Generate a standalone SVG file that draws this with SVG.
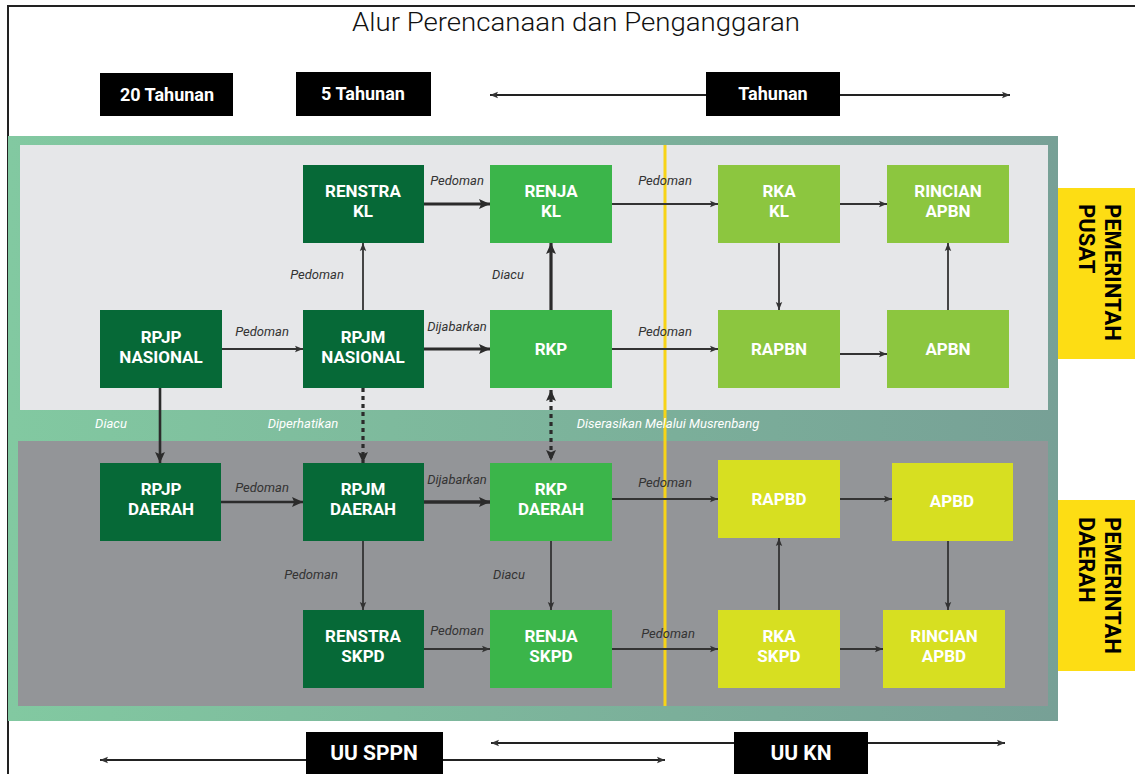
<svg xmlns="http://www.w3.org/2000/svg" width="1135" height="774" viewBox="0 0 1135 774">
<defs>
<linearGradient id="band" x1="0" y1="0" x2="1" y2="0">
<stop offset="0" stop-color="#82c9a1"/>
<stop offset="1" stop-color="#77a096"/>
</linearGradient>
<marker id="hs" viewBox="0 0 10 10" refX="10" refY="5" markerWidth="8" markerHeight="8" markerUnits="userSpaceOnUse" orient="auto-start-reverse"><path d="M0,1 L10,5 L0,9 L2,5 z" fill="#333"/></marker>
<marker id="hl" viewBox="0 0 10 10" refX="10" refY="5" markerWidth="11" markerHeight="11" markerUnits="userSpaceOnUse" orient="auto-start-reverse"><path d="M0,0.5 L10,5 L0,9.5 L2,5 z" fill="#2b2b2b"/></marker>
</defs>
<style>
.n1{fill:#066937}
.n2{fill:#3bb54a}
.n3{fill:#8cc63f}
.n4{fill:#d7df21}
.nt{font-family:Roboto,"Liberation Sans",sans-serif;font-weight:bold;font-size:17px;fill:#fff;text-anchor:middle}
.lb{font-family:Roboto,"Liberation Sans",sans-serif;font-style:italic;font-size:13px;fill:#333;text-anchor:middle}
.lw{font-family:Roboto,"Liberation Sans",sans-serif;font-style:italic;font-size:13px;fill:#fff;text-anchor:middle}
.blk{fill:#000}
.bt{font-family:Roboto,"Liberation Sans",sans-serif;font-weight:bold;font-size:18px;fill:#fff;text-anchor:middle}
.ut{font-family:Roboto,"Liberation Sans",sans-serif;font-weight:bold;font-size:21px;fill:#fff;text-anchor:middle}
.pt{font-family:Roboto,"Liberation Sans",sans-serif;font-weight:bold;font-size:22px;fill:#000}
.thin{stroke:#333;stroke-width:1.8;fill:none;marker-end:url(#hs)}
.thick{stroke:#2b2b2b;stroke-width:3.2;fill:none;marker-end:url(#hl)}
.dot{stroke:#2b2b2b;stroke-width:3.2;stroke-dasharray:4 4;fill:none;marker-end:url(#hl)}
.time{stroke:#222;stroke-width:2;fill:none;marker-end:url(#hs)}
</style>
<rect x="0" y="0" width="1135" height="774" fill="#fff"/>
<rect x="8" y="6" width="1140" height="800" fill="none" stroke="#222" stroke-width="2"/>
<text x="576" y="31" font-family="Roboto,'Liberation Sans',sans-serif" font-weight="300" font-size="26" fill="#111" text-anchor="middle" textLength="448" lengthAdjust="spacingAndGlyphs">Alur Perencanaan dan Penganggaran</text>

<!-- background panels -->
<rect x="8" y="136" width="1050" height="585" fill="url(#band)"/>
<rect x="20" y="145" width="1028" height="265" fill="#e6e7e9"/>
<rect x="18" y="441" width="1030" height="265" fill="#939598"/>
<line x1="665" y1="145" x2="665" y2="706" stroke="#f7d417" stroke-width="3"/>

<!-- time arrows -->
<g id="timeline">
<line class="time" x1="710" y1="95" x2="490" y2="95"/>
<line class="time" x1="835" y1="95" x2="1010" y2="95"/>
<line class="time" x1="310" y1="760" x2="100" y2="760"/>
<line class="time" x1="440" y1="760" x2="665" y2="760"/>
<line class="time" x1="738" y1="743" x2="491" y2="743"/>
<line class="time" x1="865" y1="743" x2="1005" y2="743"/>
</g>

<g id="box-20"><rect class="blk" x="100" y="73" width="133" height="43"/><text class="bt" x="167" y="101">20 Tahunan</text></g>
<g id="box-5"><rect class="blk" x="296" y="72" width="135" height="44"/><text class="bt" x="363" y="100">5 Tahunan</text></g>
<g id="box-tahunan"><rect class="blk" x="706" y="72" width="134" height="44"/><text class="bt" x="773" y="100">Tahunan</text></g>
<g id="box-sppn"><rect class="blk" x="306" y="732" width="137" height="50"/><text class="ut" x="374" y="760">UU SPPN</text></g>
<g id="box-kn"><rect class="blk" x="734" y="732" width="134" height="50"/><text class="ut" x="801" y="760">UU KN</text></g>

<g id="pusat"><rect x="1058" y="188" width="80" height="171" fill="#fddd14"/>
<text class="pt" transform="translate(1105,204) rotate(90)">PEMERINTAH<tspan x="0" dy="26">PUSAT</tspan></text></g>
<g id="daerah"><rect x="1058" y="500" width="80" height="171" fill="#fddd14"/>
<text class="pt" transform="translate(1105,517) rotate(90)">PEMERINTAH<tspan x="0" dy="26">DAERAH</tspan></text></g>

<!-- connectors -->
<g id="connectors">
<line class="thick" x1="424" y1="204" x2="490" y2="204"/>
<line class="thin" x1="612" y1="204" x2="718" y2="204"/>
<line class="thin" x1="840" y1="204" x2="887" y2="204"/>
<line class="thin" x1="779" y1="243" x2="779" y2="310"/>
<line class="thin" x1="840" y1="354" x2="887" y2="354"/>
<line class="thin" x1="948" y1="310" x2="948" y2="243"/>
<line class="thin" x1="222" y1="349" x2="303" y2="349"/>
<line class="thin" x1="363" y1="310" x2="363" y2="243"/>
<line class="thick" x1="424" y1="349" x2="490" y2="349"/>
<line class="thick" x1="551" y1="310" x2="551" y2="243"/>
<line class="thin" x1="612" y1="349" x2="718" y2="349"/>
<line class="thick" x1="160" y1="388" x2="160" y2="463" style="stroke-width:2.6"/>
<line class="dot" x1="363" y1="388" x2="363" y2="463"/>
<line class="dot" x1="551" y1="390" x2="551" y2="461" style="marker-start:url(#hl)"/>
<line class="thick" x1="221" y1="502" x2="303" y2="502" style="stroke-width:2.6"/>
<line class="thick" x1="424" y1="502" x2="490" y2="502" style="stroke-width:3.6"/>
<line class="thin" x1="363" y1="541" x2="363" y2="610"/>
<line class="thin" x1="551" y1="541" x2="551" y2="610"/>
<line class="thin" x1="612" y1="499" x2="718" y2="499"/>
<line class="thin" x1="424" y1="649" x2="490" y2="649"/>
<line class="thin" x1="612" y1="649" x2="718" y2="649"/>
<line class="thin" x1="779" y1="610" x2="779" y2="538"/>
<line class="thin" x1="840" y1="499" x2="892" y2="499"/>
<line class="thin" x1="948" y1="541" x2="948" y2="610"/>
<line class="thin" x1="840" y1="649" x2="883" y2="649"/>
</g>

<g id="labels">
<text class="lb" x="457" y="185">Pedoman</text>
<text class="lb" x="665" y="185">Pedoman</text>
<text class="lb" x="262" y="336">Pedoman</text>
<text class="lb" x="317" y="279">Pedoman</text>
<text class="lb" x="457" y="331">Dijabarkan</text>
<text class="lb" x="508" y="279">Diacu</text>
<text class="lb" x="665" y="336">Pedoman</text>
<text class="lw" x="111" y="428">Diacu</text>
<text class="lw" x="303" y="428">Diperhatikan</text>
<text class="lw" x="668" y="428">Diserasikan Melalui Musrenbang</text>
<text class="lb" x="262" y="492">Pedoman</text>
<text class="lb" x="457" y="484">Dijabarkan</text>
<text class="lb" x="311" y="579">Pedoman</text>
<text class="lb" x="509" y="579">Diacu</text>
<text class="lb" x="665" y="487">Pedoman</text>
<text class="lb" x="457" y="635">Pedoman</text>
<text class="lb" x="668" y="638">Pedoman</text>
</g>

<!-- nodes -->
<g id="renstra-kl"><rect class="n1" x="303" y="165" width="121" height="78"/><text class="nt" x="363" y="197">RENSTRA<tspan x="363" dy="20">KL</tspan></text></g>
<g id="rpjp-nasional"><rect class="n1" x="100" y="310" width="122" height="78"/><text class="nt" x="161" y="343">RPJP<tspan x="161" dy="20">NASIONAL</tspan></text></g>
<g id="rpjm-nasional"><rect class="n1" x="303" y="310" width="121" height="78"/><text class="nt" x="363" y="343">RPJM<tspan x="363" dy="20">NASIONAL</tspan></text></g>
<g id="renja-kl"><rect class="n2" x="490" y="165" width="122" height="78"/><text class="nt" x="551" y="197">RENJA<tspan x="551" dy="20">KL</tspan></text></g>
<g id="rkp"><rect class="n2" x="490" y="310" width="122" height="78"/><text class="nt" x="551" y="355">RKP</text></g>
<g id="rka-kl"><rect class="n3" x="718" y="165" width="122" height="78"/><text class="nt" x="779" y="197">RKA<tspan x="779" dy="20">KL</tspan></text></g>
<g id="rapbn"><rect class="n3" x="718" y="310" width="122" height="78"/><text class="nt" x="779" y="355">RAPBN</text></g>
<g id="rincian-apbn"><rect class="n3" x="887" y="165" width="122" height="78"/><text class="nt" x="948" y="197">RINCIAN<tspan x="948" dy="20">APBN</tspan></text></g>
<g id="apbn"><rect class="n3" x="887" y="310" width="122" height="78"/><text class="nt" x="948" y="355">APBN</text></g>

<g id="rpjp-daerah"><rect class="n1" x="100" y="463" width="121" height="78"/><text class="nt" x="161" y="495">RPJP<tspan x="161" dy="20">DAERAH</tspan></text></g>
<g id="rpjm-daerah"><rect class="n1" x="303" y="463" width="121" height="78"/><text class="nt" x="363" y="495">RPJM<tspan x="363" dy="20">DAERAH</tspan></text></g>
<g id="renstra-skpd"><rect class="n1" x="303" y="610" width="121" height="78"/><text class="nt" x="363" y="642">RENSTRA<tspan x="363" dy="20">SKPD</tspan></text></g>
<g id="rkp-daerah"><rect class="n2" x="490" y="463" width="122" height="78"/><text class="nt" x="551" y="495">RKP<tspan x="551" dy="20">DAERAH</tspan></text></g>
<g id="renja-skpd"><rect class="n2" x="490" y="610" width="122" height="78"/><text class="nt" x="551" y="642">RENJA<tspan x="551" dy="20">SKPD</tspan></text></g>
<g id="rapbd"><rect class="n4" x="718" y="460" width="122" height="78"/><text class="nt" x="779" y="505">RAPBD</text></g>
<g id="rka-skpd"><rect class="n4" x="718" y="610" width="122" height="78"/><text class="nt" x="779" y="642">RKA<tspan x="779" dy="20">SKPD</tspan></text></g>
<g id="apbd"><rect class="n4" x="892" y="463" width="121" height="78"/><text class="nt" x="952" y="507">APBD</text></g>
<g id="rincian-apbd"><rect class="n4" x="883" y="610" width="122" height="78"/><text class="nt" x="944" y="642">RINCIAN<tspan x="944" dy="20">APBD</tspan></text></g>
</svg>
